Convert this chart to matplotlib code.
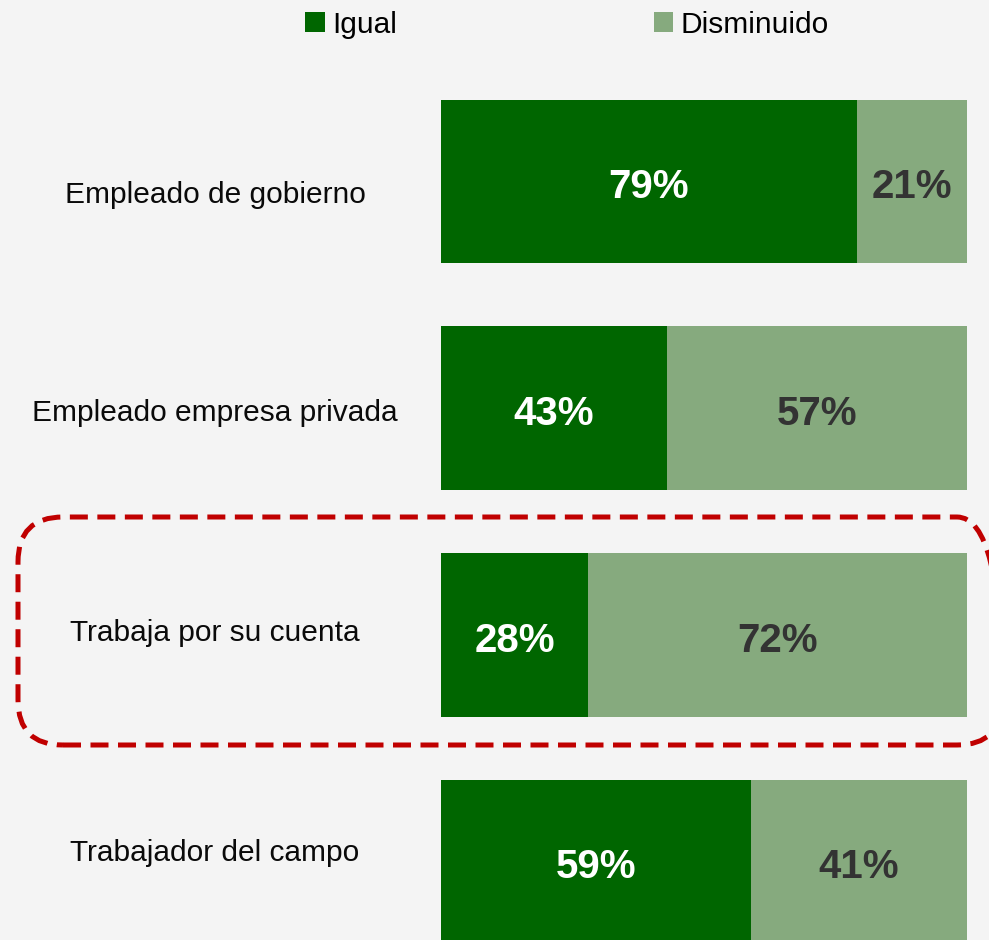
import matplotlib
matplotlib.use("Agg")
import matplotlib.pyplot as plt
from matplotlib.patches import FancyBboxPatch
from matplotlib import font_manager

categories = ["Empleado de gobierno", "Empleado empresa privada",
              "Trabaja por su cuenta", "Trabajador del campo"]
igual = [79, 43, 28, 59]
disminuido = [21, 57, 72, 41]
series_names = ["Igual", "Disminuido"]

names = {f.name for f in font_manager.fontManager.ttflist}
narrow = "Liberation Sans Narrow" if "Liberation Sans Narrow" in names else "Liberation Sans"

BG = "#F4F4F4"
DARK = "#006600"
LIGHT = "#86AA7E"

W, H = 989, 940
fig = plt.figure(figsize=(W / 100, H / 100), dpi=100, facecolor=BG)

# axes: x 441..967 px ; rows centered at 181.5 + 227*i
top_px, bot_px = 181.5 - 113.5, 861.5 + 113.5
ax = fig.add_axes([441 / W, (H - bot_px) / H, 526 / W, (bot_px - top_px) / H])
ax.set_facecolor(BG)
ax.patch.set_alpha(0)

y = list(range(len(categories)))
b1 = ax.barh(y, igual, height=0.72, color=DARK, label=series_names[0])
b2 = ax.barh(y, disminuido, left=igual, height=0.72, color=LIGHT, label=series_names[1])
ax.set_xlim(0, 100)
ax.set_ylim(len(categories) - 0.5, -0.5)
ax.axis("off")

for i in y:
    ax.text(igual[i] / 2, i + 0.025, f"{igual[i]}%", ha="center", va="center",
            color="white", fontsize=29, fontweight="bold", family="Liberation Sans")
    ax.text(igual[i] + disminuido[i] / 2, i + 0.025, f"{disminuido[i]}%", ha="center",
            va="center", color="#333333", fontsize=29, fontweight="bold",
            family="Liberation Sans")

label_y = [195, 413, 633, 853]
for cat, ly in zip(categories, label_y):
    fig.text(215 / W, 1 - ly / H, cat, ha="center", va="center", fontsize=21.5,
             family=narrow, color="#0a0a0a")

leg = fig.legend(handles=[b1, b2], labels=series_names, loc="upper center",
                 bbox_to_anchor=(567 / W, 1 + 16 / H), ncol=2, frameon=False,
                 prop={"family": narrow, "size": 21.5},
                 handlelength=0.65, handleheight=0.65, handletextpad=0.25,
                 columnspacing=8.6)

# dashed rounded highlight box
x0, y0, x1, y1 = 18, 517, 1002, 745
r = 45
box = FancyBboxPatch((x0 / W, 1 - y1 / H), (x1 - x0) / W, (y1 - y0) / H,
                     boxstyle=f"round,pad=0,rounding_size={r / W}",
                     transform=fig.transFigure, fill=False,
                     edgecolor="#C00000", linewidth=3.6,
                     linestyle=(0, (3.6, 1.9)), clip_on=False,
                     mutation_aspect=W / H)
fig.add_artist(box)

fig.savefig("out.png", dpi=100, facecolor=BG)
